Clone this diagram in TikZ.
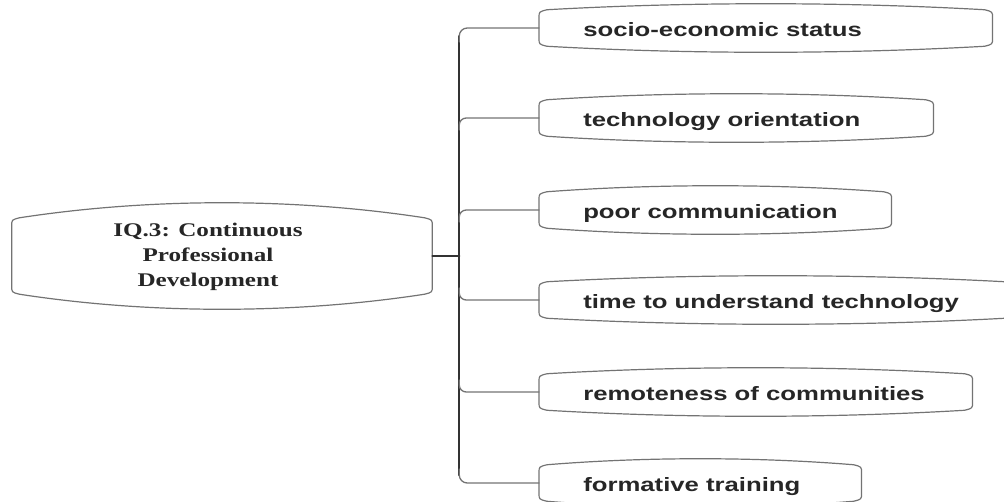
\documentclass[tikz,border=0pt]{standalone}
\usepackage{fontspec}
\usetikzlibrary{calc}
\newfontfamily\itemfont{Liberation Sans}[FakeStretch=1.33]
\newfontfamily\rootfont{Liberation Serif}[FakeStretch=1.3]
\newcommand{\pix}{0.75pt}
% box outline: straight sides, bulging top and bottom
\newcommand{\bulgeoutline}[2]{%
\draw[outline] ($(#1.south west)+(0,-6)$) -- ($(#1.north west)+(0,6)$)
 .. controls (#1.north west) .. ($(#1.north west)+(8,-2)$)
 .. controls ($(#1.north west)!0.33!(#1.north east)+(0,-#2)$) and ($(#1.north west)!0.67!(#1.north east)+(0,-#2)$) .. ($(#1.north east)+(-8,-2)$)
 .. controls (#1.north east) .. ($(#1.north east)+(0,6)$)
 -- ($(#1.south east)+(0,-6)$)
 .. controls (#1.south east) .. ($(#1.south east)+(-8,2)$)
 .. controls ($(#1.south west)!0.67!(#1.south east)+(0,#2)$) and ($(#1.south west)!0.33!(#1.south east)+(0,#2)$) .. ($(#1.south west)+(8,2)$)
 .. controls (#1.south west) .. ($(#1.south west)+(0,-6)$) -- cycle;}

\begin{document}
\begin{tikzpicture}[line cap=round,line join=round,x=0.75pt,y=-0.75pt,
  outline/.style={draw=black!55,line width=1.2*\pix},
  branch/.style={draw=black!55,line width=1.3*\pix},
  trunk/.style={draw=black!80,line width=2*\pix},
  box/.style={inner sep=0,minimum height=32*\pix,anchor=west},
  itemtext/.style={inner sep=0,anchor=base west,text=black!85,font=\itemfont\bfseries\fontsize{14.5}{17}\selectfont},
  roottext/.style={inner sep=0,align=center,text=black!85,font=\rootfont\bfseries\fontsize{14.5}{18.5}\selectfont}]

\useasboundingbox (0,0) rectangle (1004,501);

%% root
\node[inner sep=0,minimum width=420*\pix,minimum height=72*\pix] (root) at (222,256) {};
\node[roottext] (roottxt) at (208,257) {IQ.3: Continuous\\Professional\\Development};
\bulgeoutline{root}{22}

%% boxes
\node[box,minimum width=453*\pix] (b1) at (539,28) {};
\node[box,minimum width=394*\pix] (b2) at (539,118) {};
\node[box,minimum width=352*\pix] (b3) at (539,210) {};
\node[box,minimum width=473*\pix] (b4) at (539,300) {};
\node[box,minimum width=433*\pix] (b5) at (539,392) {};
\node[box,minimum width=322*\pix] (b6) at (539,483) {};
\bulgeoutline{b1}{10}
\bulgeoutline{b2}{10}
\bulgeoutline{b3}{10}
\bulgeoutline{b4}{10}
\bulgeoutline{b5}{10}
\bulgeoutline{b6}{10}

\node[itemtext] (t1) at ($(b1.west)+(44,8)$) {socio-economic status};
\node[itemtext] (t2) at ($(b2.west)+(44,8)$) {technology orientation};
\node[itemtext] (t3) at ($(b3.west)+(44,8)$) {poor communication};
\node[itemtext] (t4) at ($(b4.west)+(44,8)$) {time to understand technology};
\node[itemtext] (t5) at ($(b5.west)+(44,8)$) {remoteness of communities};
\node[itemtext] (t6) at ($(b6.west)+(44,8)$) {formative training};

%% connectors
\coordinate (hub) at ($(root.east)+(27,0)$);
\draw[trunk] (root.east) -- (hub);
\draw[trunk] ($(hub |- b1.west)+(0,8)$) -- ($(hub |- b6.west)+(0,-8)$);
\draw[branch,rounded corners=8*\pix] ($(hub |- b1.west)+(0,14)$) |- (b1.west);
\draw[branch,rounded corners=7*\pix] ($(hub |- b2.west)+(0,12)$) |- (b2.west);
\draw[branch,rounded corners=7*\pix] ($(hub |- b3.west)+(0,12)$) |- (b3.west);
\draw[branch,rounded corners=7*\pix] ($(hub |- b4.west)+(0,-12)$) |- (b4.west);
\draw[branch,rounded corners=7*\pix] ($(hub |- b5.west)+(0,-12)$) |- (b5.west);
\draw[branch,rounded corners=8*\pix] ($(hub |- b6.west)+(0,-14)$) |- (b6.west);
%%
\end{tikzpicture}
\end{document}
